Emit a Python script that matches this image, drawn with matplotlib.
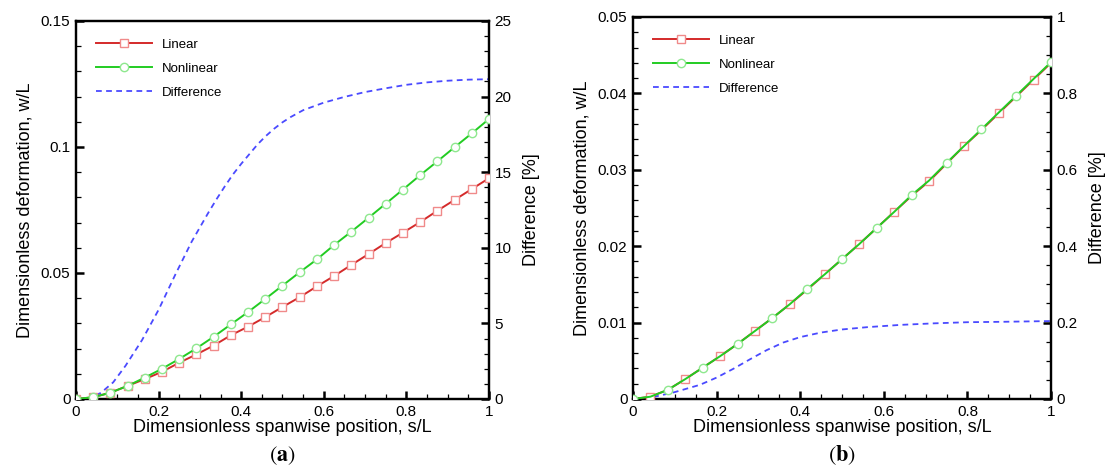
import numpy as np
import matplotlib.pyplot as plt
from matplotlib.ticker import MultipleLocator, FuncFormatter
from matplotlib.lines import Line2D

plt.rcParams['font.family'] = ['Liberation Sans', 'DejaVu Sans']
plt.rcParams['mathtext.fontset'] = 'stix'

# spanwise stations (every 1/24 of span)
s = np.arange(25) / 24

# panel (a)
lin_a = [0, 0.0007, 0.0025, 0.0052, 0.0079, 0.0108, 0.0144, 0.0177, 0.0212,
         0.0253, 0.0287, 0.0325, 0.0365, 0.0404, 0.0447, 0.0488, 0.0532,
         0.0575, 0.0619, 0.0660, 0.0702, 0.0747, 0.0790, 0.0833, 0.0876]
nonlin_a = [0, 0.0007, 0.0025, 0.0052, 0.0085, 0.0120, 0.0159, 0.0201, 0.0247,
            0.0296, 0.0345, 0.0397, 0.0450, 0.0503, 0.0554, 0.0611, 0.0664,
            0.0719, 0.0775, 0.0831, 0.0888, 0.0943, 0.0999, 0.1054, 0.1111]
diff_x_a = [0, 0.03, 0.06, 0.09, 0.12, 0.16, 0.2, 0.24, 0.28, 0.32, 0.34, 0.36,
            0.38, 0.4, 0.42, 0.44, 0.46, 0.48, 0.5, 0.52, 0.55, 0.6, 0.65, 0.7,
            0.75, 0.8, 0.85, 0.9, 0.95, 1.0]
diff_a = [0, 0.05, 0.4, 1.1, 2.2, 3.9, 5.9, 8.2, 10.4, 12.3, 13.2, 14.05,
          14.85, 15.55, 16.2, 16.85, 17.4, 17.88, 18.3, 18.65, 19.1, 19.6, 19.98, 20.3,
          20.55, 20.78, 20.94, 21.05, 21.12, 21.15]

# panel (b)
lin_b = [0, 0.0003, 0.0012, 0.0026, 0.0041, 0.0056, 0.0072, 0.0089, 0.0106,
         0.0124, 0.0143, 0.0163, 0.0183, 0.0203, 0.0224, 0.0245, 0.0266,
         0.0285, 0.0308, 0.0331, 0.0352, 0.0374, 0.0396, 0.0418, 0.0440]
nonlin_b = [0, 0.0003, 0.0012, 0.0026, 0.0041, 0.0056, 0.0072, 0.0089, 0.0106,
            0.0124, 0.0144, 0.0163, 0.0183, 0.0203, 0.0224, 0.0245, 0.0267,
            0.0286, 0.0309, 0.0331, 0.0353, 0.0375, 0.0397, 0.0419, 0.0441]
diff_x_b = [0, 0.03, 0.06, 0.1, 0.16, 0.2, 0.24, 0.28, 0.32, 0.36, 0.4, 0.45,
            0.5, 0.56, 0.64, 0.72, 0.8, 0.88, 1.0]
diff_b = [0, 0.002, 0.008, 0.018, 0.037, 0.056, 0.079, 0.104, 0.128, 0.148,
          0.162, 0.174, 0.182, 0.188, 0.194, 0.198, 0.201, 0.202, 0.204]

RED = '#d42a2a'
RED_M = '#f08a8a'
GREEN = '#22cc22'
GREEN_M = '#8ee88e'
BLUE = '#4a4aff'
DASH = (0, (3.2, 2.4))

fmt = FuncFormatter(lambda v, p: '%g' % round(v, 6))


def style_axis(ax, ax2):
    for a in (ax, ax2):
        for sp in a.spines.values():
            sp.set_linewidth(1.6)
        a.tick_params(which='major', direction='in', length=6, width=1.8,
                      labelsize=11, pad=4)
        a.tick_params(which='minor', direction='in', length=3.5, width=0.9)
        a.yaxis.set_major_formatter(fmt)
    ax.tick_params(top=False, right=False, which='both')
    ax2.tick_params(top=False, left=False, which='both')
    ax.xaxis.set_major_formatter(fmt)
    ax.set_xlim(0, 1)
    ax.xaxis.set_major_locator(MultipleLocator(0.2))
    ax.xaxis.set_minor_locator(MultipleLocator(0.05))
    ax.set_xlabel('Dimensionless spanwise position, s/L', fontsize=13, labelpad=0)
    ax.set_ylabel('Dimensionless deformation, w/L', fontsize=13, labelpad=5)
    ax2.set_ylabel('Difference [%]', fontsize=13, labelpad=8)


def add_legend(ax):
    handles = [
        Line2D([], [], color=RED, lw=1.4, marker='s', ms=5.5, mfc='white', mec=RED_M),
        Line2D([], [], color=GREEN, lw=1.4, marker='o', ms=6, mfc='white', mec=GREEN_M),
        Line2D([], [], color=BLUE, lw=1.3, ls=DASH),
    ]
    ax.legend(handles, ['Linear', 'Nonlinear', 'Difference'], loc='upper left',
              bbox_to_anchor=(0.02, 0.985), frameon=False, fontsize=9.5,
              handlelength=4.2, labelspacing=0.9, handletextpad=0.8)


fig = plt.figure(figsize=(11.08, 4.76), dpi=100)

# (a)
ax = fig.add_axes([0.0686, 0.1618, 0.3727, 0.7941])
ax2 = ax.twinx()
ax2.plot(diff_x_a, diff_a, color=BLUE, lw=1.3, ls=DASH)
ax.plot(s, lin_a, color=RED, lw=1.4, marker='s', ms=5.5, mfc='white', mec=RED_M, zorder=3)
ax.plot(s, nonlin_a, color=GREEN, lw=1.4, marker='o', ms=6, mfc='white', mec=GREEN_M, zorder=4)
ax.set_ylim(0, 0.15)
ax.yaxis.set_major_locator(MultipleLocator(0.05))
ax.yaxis.set_minor_locator(MultipleLocator(0.01))
ax2.set_ylim(0, 25)
ax2.yaxis.set_major_locator(MultipleLocator(5))
ax2.yaxis.set_minor_locator(MultipleLocator(1))
ax.set_zorder(ax2.get_zorder() + 1)
ax.patch.set_visible(False)
style_axis(ax, ax2)
add_legend(ax)

# (b)
bx = fig.add_axes([0.5713, 0.1618, 0.3773, 0.8025])
bx2 = bx.twinx()
bx2.plot(diff_x_b, diff_b, color=BLUE, lw=1.3, ls=DASH)
bx.plot(s, lin_b, color=RED, lw=1.4, marker='s', ms=5.5, mfc='white', mec=RED_M,
        markevery=(1, 2), zorder=3)
bx.plot(s, nonlin_b, color=GREEN, lw=1.4, marker='o', ms=6, mfc='white', mec=GREEN_M,
        markevery=(0, 2), zorder=4)
bx.set_ylim(0, 0.05)
bx.yaxis.set_major_locator(MultipleLocator(0.01))
bx.yaxis.set_minor_locator(MultipleLocator(0.002))
bx2.set_ylim(0, 1)
bx2.yaxis.set_major_locator(MultipleLocator(0.2))
bx2.yaxis.set_minor_locator(MultipleLocator(0.05))
bx.set_zorder(bx2.get_zorder() + 1)
bx.patch.set_visible(False)
style_axis(bx, bx2)
add_legend(bx)

fig.text(0.2549, 0.043, r'$(\mathbf{a})$', ha='center', va='center', fontsize=16)
fig.text(0.7600, 0.043, r'$(\mathbf{b})$', ha='center', va='center', fontsize=16)

fig.savefig('out.png', dpi=100)
